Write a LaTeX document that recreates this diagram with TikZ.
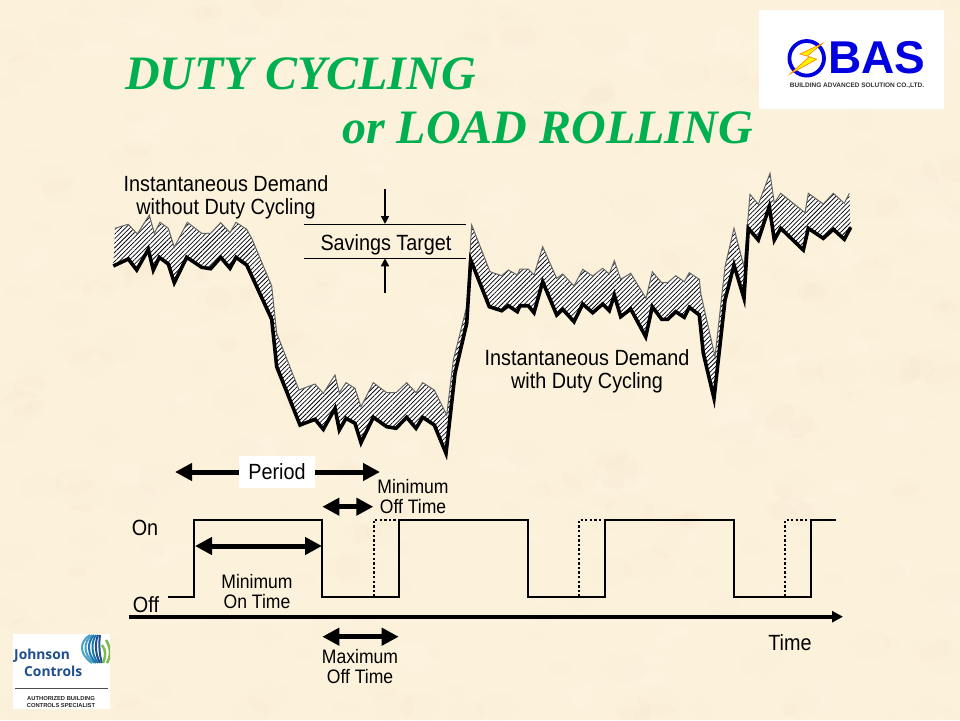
\documentclass[tikz,border=0pt]{standalone}
\usepackage{fontspec}
\setmainfont[FakeStretch=0.9]{Liberation Sans}
\newfontfamily\plainfont{Liberation Sans}
\newfontfamily\titlefont{Liberation Serif}
\newfontfamily\jcifont{Open Sans}
\usepackage{tikz}
\usetikzlibrary{arrows.meta,patterns.meta}
\definecolor{paper}{RGB}{252,242,219}
\definecolor{titlegreen}{RGB}{0,176,80}
\definecolor{basblue}{RGB}{0,0,225}
\definecolor{jciblue}{RGB}{31,78,140}
\definecolor{jcilight}{RGB}{70,160,200}
\definecolor{jcimid}{RGB}{30,120,170}
\definecolor{jcigreen}{RGB}{125,185,80}
\tikzset{
  label20/.style={inner sep=0pt, align=center, font=\fontsize{22}{23}\selectfont},
  label18/.style={inner sep=0pt, align=center, font=\fontsize{19.5}{20}\selectfont},
  titletext/.style={inner sep=0pt, anchor=west, text=titlegreen, font=\titlefont\bfseries\itshape\fontsize{48}{50}\selectfont},
  dblarrow/.style={line width=5pt, {Triangle[length=17pt,width=17pt]}-{Triangle[length=17pt,width=17pt]}},
  thinarrow/.style={line width=1.6pt, -{Triangle[length=8pt,width=8pt]}},
  wave/.style={line width=2pt, line join=miter},
  dotwave/.style={line width=2pt, dash pattern=on 2.3pt off 2.3pt}
}
\begin{document}
\begin{tikzpicture}[x=1pt,y=-1pt]
  \useasboundingbox (0,0) rectangle (960,720);
  \fill[paper] (0,0) rectangle (960,720);
  % mottled paper
  \pgfmathsetseed{42}
  \begin{scope}
    \clip (0,0) rectangle (960,720);
    \foreach \i in {1,...,300}{
      \pgfmathsetmacro{\bx}{960*rnd}
      \pgfmathsetmacro{\by}{720*rnd}
      \pgfmathsetmacro{\br}{8+18*rnd}
      \fill[white, opacity=0.05] (\bx,\by) ellipse ({\br pt} and {0.6*\br pt});
      \pgfmathsetmacro{\bx}{960*rnd}
      \pgfmathsetmacro{\by}{720*rnd}
      \fill[brown!60!paper, opacity=0.018] (\bx,\by) ellipse ({\br pt} and {0.7*\br pt});
    }
  \end{scope}

  % title
  \node[titletext] (title1) at (125,74){DUTY CYCLING};
  \node[titletext] (title2) at (342,128){or LOAD ROLLING};

  % demand curves
  \foreach \px/\py [count=\n] in {115/228.3,128.3/224.3,137.3/234,149.3/215,154.3/233.3,160/222.3,168.3/228.3,174.3/247.3,187.3/222.3,201.7/233.3,210.7/233.3,220.7/222.7,230/232.7,236/222.3,246.7/229.3,251.7/238.3,271.7/286,276.7/333.3,299/390,315/384,323.3/393.3,335/375,339.3/392.7,346/382.7,355/388.3,361/406.7,373.3/382.7,386.7/392.7,396/392.7,406.7/382.7,416/392.7,422.7/382.7,434.3/390,446.7/415,453.3/360,466.7/306.7,471.7/225,490/271.7,501.7/275.7,508.3/270,517.3/275,520/269,528.3/269,534/275,542.7/246.7,556.7/278.3,562.7/274,574/286,582.7/269.3,592.7/276,602.7/268.3,609.3/274,614.3/260.7,620.7/279.3,630.7/273.3,646/298.3,652.3/271.7,661.7/282.7,667.7/282.7,675.7/275.7,684.3/281.7,689.3/272.7,699.3/279.3,700.7/293.3,715/356.7,725/266.7,734/228.3,744/266.7,750/194.3,758.3/204.3,770/173.3,774.3/203.3,780.7/193.3,805/212.7,808.3/193.3,823.3/204,833.3/193.3,844.3/203.3,849.3/193.3}{
    \coordinate (up\n) at (\px,\py);
    \xdef\nup{\n}
  }
  \foreach \px/\py [count=\n] in {113.3/266,128.3/259,136.7/270,148.3/249.3,153.3/270,159.3/257.3,168.3/264,174.3/282.7,186.7/257.3,201.7/267.3,210.7/268.7,220.7/257.3,230/268.3,236/257.3,246.7/265,271.7/319.3,276.7/366.7,300/425,315/419.3,323.3/429.3,335/408.3,339.3/430,346/418.3,355/423.3,361/442.7,373.3/417.3,386.7/426.7,396/428.3,406.7/417.3,416/428.3,422.7/417.3,434.3/425,446/453.3,455/373.3,466.7/323.3,470.7/260,489.3/306.7,501.7/310.7,508.3/305.7,517.3/311.7,520/305.7,528.3/305.7,534/312.7,542.7/281.7,556.7/315,562.7/309.3,574/321.7,582.7/304,592.7/312.7,602.7/304,609.3/310.7,614.3/295,620.7/316.7,630.7/309,645.7/336.7,652.3/306.7,661.7/319.3,667.7/319.3,675.7/311.7,684.3/317.3,689.3/307.3,699.3/315,703.3/353.3,714/398.3,725/300,734/265,744/298.3,748.3/228.3,758.3/240,769.3/206.7,774.3/240,780.7/228.3,803.3/250,808.3/228.3,823.3/238.3,833.3/229.3,844.3/239.3,850.7/227.3}{
    \coordinate (lo\n) at (\px,\py);
    \xdef\nlo{\n}
  }
  \path[preaction={fill=white}, pattern={Lines[angle=45,distance=3.2pt,line width=.75pt]}]
    (up1) \foreach \n in {2,...,\nup}{ -- (up\n)} \foreach \n in {\nlo,...,1}{ -- (lo\n)} -- cycle;
  \draw[line width=1pt, black!60] (up1) \foreach \n in {2,...,\nup}{ -- (up\n)};
  \draw[line width=3.6pt] (lo1) \foreach \n in {2,...,\nlo}{ -- (lo\n)};

  % savings target
  \coordinate (t1) at (304,224);
  \coordinate (t2) at (466,224);
  \coordinate (t3) at (304,258.3);
  \coordinate (t4) at (466,258.3);
  \coordinate (ta) at (385,189);
  \coordinate (tb) at (385,224);
  \coordinate (tc) at (385,293);
  \coordinate (td) at (385,258.3);
  \draw[line width=1pt] (t1) -- (t2) (t3) -- (t4);
  \path
  (ta) edge[thinarrow] (tb)
  (tc) edge[thinarrow] (td);

  % curve labels
  \node[label20] (without) at (226,197){Instantaneous Demand\\without Duty Cycling};
  \node[label20] (savings) at (386,244.5){Savings Target};
  \node[label20] (with) at (587,371){Instantaneous Demand\\with Duty Cycling};

  % on/off waveform
  \foreach \px/\py [count=\n] in {168.3/596.7,194/596.7,194/520,322/520,322/596.7,398.7/596.7,398.7/520,528.3/520,528.3/596.7,605/596.7,605/520,734/520,734/596.7,811/596.7,811/520,835.7/520}{
    \coordinate (w\n) at (\px,\py);
  }
  \draw[wave] (w1) \foreach \n in {2,...,16}{ -- (w\n)};
  \coordinate (d1) at (373.5,596.7);
  \coordinate (d2) at (373.5,520);
  \coordinate (d3) at (579,596.7);
  \coordinate (d4) at (579,520);
  \coordinate (d5) at (785,596.7);
  \coordinate (d6) at (785,520);
  \draw[dotwave] (d1) -- (d2) -- (w7);
  \draw[dotwave] (d3) -- (d4) -- (w11);
  \draw[dotwave] (d5) -- (d6) -- (w15);

  % time axis
  \coordinate (ax1) at (129,616.7);
  \coordinate (ax2) at (843,616.7);
  \draw[line width=4pt, -{Triangle[length=11pt,width=11pt]}] (ax1) -- (ax2);

  % timing arrows
  \coordinate (pa) at (175,472);
  \coordinate (pb) at (380,472);
  \coordinate (fa) at (322.3,506.7);
  \coordinate (fb) at (373.3,506.7);
  \coordinate (oa) at (195,546);
  \coordinate (ob) at (322,546);
  \coordinate (ma) at (322.3,636.7);
  \coordinate (mb) at (398.7,636.7);
  \path
  (pa) edge[dblarrow] (pb)
  (fa) edge[dblarrow] (fb)
  (oa) edge[dblarrow] (ob)
  (ma) edge[dblarrow] (mb);

  % timing labels
  \node[fill=white, minimum width=76pt, minimum height=32pt, inner sep=0pt, font=\fontsize{22}{23}\selectfont] (period) at (277,472){Period};
  \node[label18] (minoff) at (413,496.5){Minimum\\Off Time};
  \node[label18] (minon) at (257,591.5){Minimum\\On Time};
  \node[label18] (maxoff) at (360,666.5){Maximum\\Off Time};
  \node[label20] (on) at (145,527.5){On};
  \node[label20] (off) at (146,605){Off};
  \node[label20] (time) at (790,642.5){Time};

  % BAS logo
  \fill[white] (759,10) rectangle (944,109);
  \draw[basblue, line width=3.8pt] (806.7,58.3) circle (17.3pt);
  \draw[fill=yellow, draw=orange, line width=.6pt] (822.7,43.3) -- (800,54) -- (809.3,56.7) -- (790,74) -- (816.7,59.3) -- (807.3,56) -- cycle;
  \node[inner sep=0pt, text=basblue, font=\plainfont\bfseries\fontsize{46}{46}\selectfont] (bas) at (877,58){BAS};
  \node[inner sep=0pt, text=black!80, font=\plainfont\bfseries\fontsize{6.5}{7}\selectfont] (bastext) at (857,85.5){BUILDING ADVANCED SOLUTION CO.,LTD.};

  % Johnson Controls logo
  \fill[white] (13,634) rectangle (110,709);
  \begin{scope}
    \clip (79,634) rectangle (110,664);
    \foreach \mx/\tx/\col in {80/90/jcilight,84/92/jcilight,88/94/jcimid,92/96/jcimid,96/98/jciblue,100/100/jciblue}{
      \draw[\col, line width=2pt] (\tx,635) .. controls (\mx-1,642) and (\mx-1,654) .. (\tx+2,663);
    }
    \draw[jcigreen, line width=2.5pt] (102,645) .. controls (106,650) and (106,656) .. (103,663);
    \draw[jcigreen, line width=2.5pt] (106,640) .. controls (111,648) and (111,656) .. (107,663);
  \end{scope}
  \node[inner sep=0pt, anchor=west, text=jciblue, font=\jcifont\bfseries\fontsize{13.8}{14}\selectfont] (johnson) at (14,656){Johnson};
  \node[inner sep=0pt, anchor=west, text=jciblue, font=\jcifont\bfseries\fontsize{13.8}{14}\selectfont] (controls) at (24,671){Controls};
  \draw[black!70, line width=.8pt] (15,688) -- (108,688);
  \node[inner sep=0pt, text=black!85, font=\plainfont\bfseries\fontsize{5.8}{6}\selectfont] (auth1) at (61,698){AUTHORIZED BUILDING};
  \node[inner sep=0pt, text=black!85, font=\plainfont\bfseries\fontsize{5.8}{6}\selectfont] (auth2) at (61,705.5){CONTROLS SPECIALIST};
\end{tikzpicture}
\end{document}
